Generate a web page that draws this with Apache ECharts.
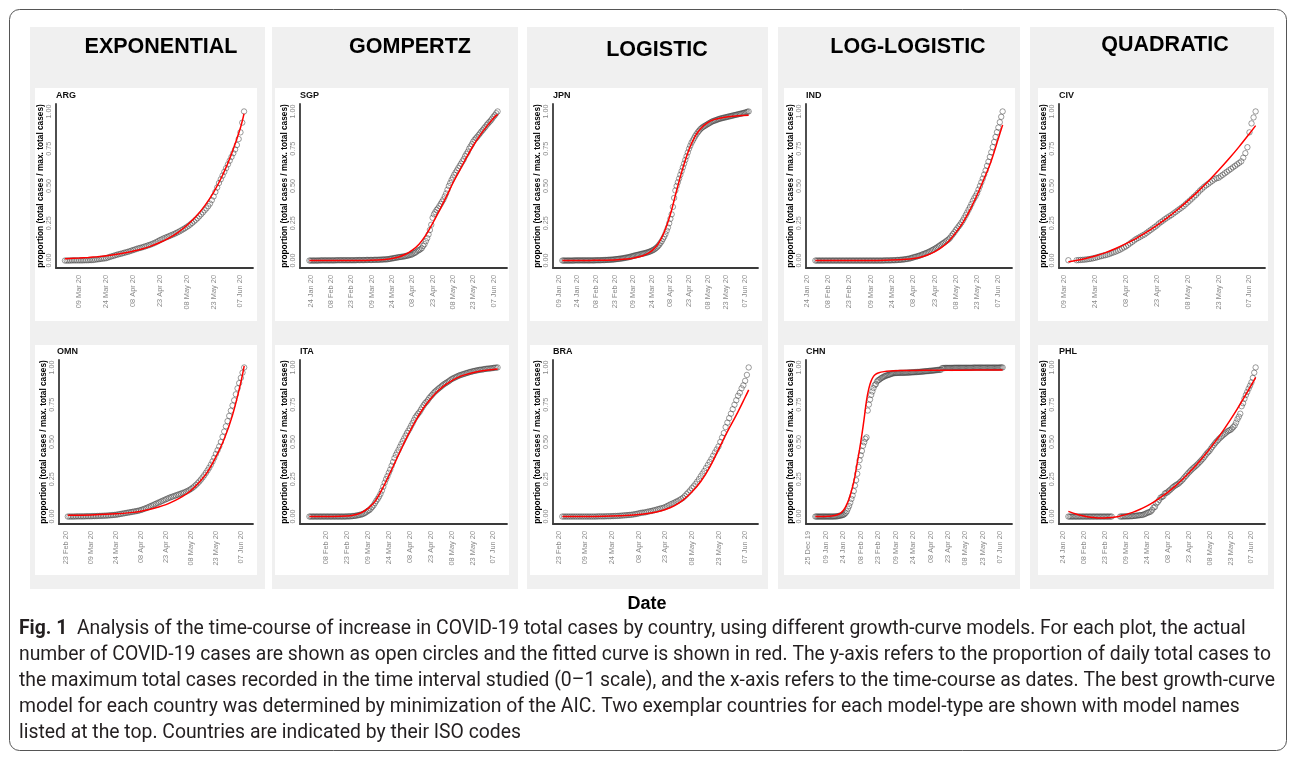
<!DOCTYPE html>
<html>
<head>
<meta charset="utf-8">
<script src="https://cdn.jsdelivr.net/npm/echarts@6/dist/echarts.min.js"></script>
<style>
  html, body { margin: 0; padding: 0; background: #fff; }
  #chart { width: 1295px; height: 759px; }
</style>
</head>
<body>
<div id="chart"></div>
<script>
// ---------------------------------------------------------------------------
// Growth-curve fits of COVID-19 total cases (proportion of the maximum).
// Columns: model type; rows: two example countries per model.
// ---------------------------------------------------------------------------

const models = ['EXPONENTIAL', 'GOMPERTZ', 'LOGISTIC', 'LOG-LOGISTIC', 'QUADRATIC'];
const countriesTop = ['ARG', 'SGP', 'JPN', 'IND', 'CIV'];
const countriesBottom = ['OMN', 'ITA', 'BRA', 'CHN', 'PHL'];

const yTickValues = [0, 0.25, 0.5, 0.75, 1];
const yAxisTitle = 'proportion (total cases / max. total cases)';
const xAxisTitle = 'Date';

// date breaks every 15 days
const dateTicks = ['25 Dec 19', '09 Jan 20', '24 Jan 20', '08 Feb 20', '23 Feb 20', '09 Mar 20',
  '24 Mar 20', '08 Apr 20', '23 Apr 20', '08 May 20', '23 May 20', '07 Jun 20'];
// first break shown on each panel (top row, then bottom row)
const firstTickTop = ['09 Mar 20', '24 Jan 20', '09 Jan 20', '24 Jan 20', '09 Mar 20'];
const firstTickBottom = ['23 Feb 20', '08 Feb 20', '23 Feb 20', '25 Dec 19', '24 Jan 20'];

// ---- observed daily proportions (one value per day from the start date; null = no report)
const startARG = '2020-03-01';
const obsARG = [0,0,0,0,.001,.001,.001,.001,
  .001,.001,.001,.002,.002,.002,.003,.003,.004,.006,.008,.009,.011,.013,.014,
  .016,.020,.024,.028,.031,.035,.039,.042,.045,.048,.052,.055,.058,.062,.066,
  .070,.074,.078,.082,.085,.088,.092,.096,.100,.104,.108,.113,.118,.124,.130,
  .137,.142,.148,.153,.158,.163,.168,.173,.178,.184,.190,.196,.203,.210,.217,
  .225,.233,.242,.252,.262,.273,.284,.297,.310,.323,.337,.350,.365,.382,.405,
  .430,.460,.490,.520,.545,.570,.595,.620,.645,.670,.695,.720,.745,.775,.815,
  .860,.925,1];

const startSGP = '2020-01-23';
const obsSGP = [0,0,0,0,0,0,0,0,
  .001,.001,.001,.001,.001,.001,.001,.001,.001,.001,.001,.001,
  .002,.002,.002,.002,.002,.002,.002,.002,.002,.002,.002,
  .002,.002,.002,.002,.003,.003,.003,.003,.003,.003,.003,.004,.004,.004,.004,
  .004,.004,.005,.005,.005,.005,.006,.006,.007,.007,.008,.008,.009,.011,.012,
  .014,.016,.017,.019,.021,.022,.024,.025,.026,.028,.030,.032,.034,.037,.039,
  .042,.048,.052,.058,.066,.070,.076,.083,.098,.110,.130,.150,.175,.205,.240,
  .287,.310,.325,.340,.350,.365,.380,.395,.410,.430,.450,.475,.500,.520,.540,
  .557,.575,.590,.605,.620,.635,.650,.665,.680,.700,.715,.730,.750,.765,.780,
  .797,.810,.820,.830,.842,.853,.865,.875,.887,.897,.910,.920,.930,.940,.952,
  .965,.975,.988,1];

const startJPN = '2020-01-12';
const obsJPN = [0,0,0,0,0,0,0,0,0,0,
  .001,.001,.001,.001,.001,.001,.001,.001,.001,.001,.001,.001,.001,.001,.001,.001,.001,
  .002,.002,.002,.002,.002,.003,.003,.003,.004,.004,.005,.005,.006,.006,.007,
  .008,.009,.010,.011,.012,.013,.014,.016,.017,.019,.020,.022,.024,.026,.028,
  .031,.033,.035,.037,.039,.041,.043,.045,.047,.049,.051,.053,.056,.059,.062,
  .066,.070,.075,.081,.088,.096,.106,.118,.130,.145,.160,.178,.200,.222,.250,
  .280,.310,.360,.420,.470,.500,.525,.550,.575,.600,.625,.650,.675,.700,.725,
  .750,.770,.790,.805,.820,.835,.848,.860,.870,.880,.888,.895,.900,.905,.910,
  .915,.920,.925,.930,.934,.937,.940,.943,.946,.949,.952,.954,.956,.958,.960,
  .962,.964,.966,.968,.970,.972,.974,.976,.978,.980,.982,.984,.986,.988,.990,
  .992,.995,.998,1];

const startIND = '2020-01-30';
const obsIND = [0,0,0,0,0,0,0,0,0,0,0,0,0,0,0,0,0,0,0,0,
  0,0,0,0,0,0,0,0,0,0,0,0,0,0,0,0,0,0,0,
  0,0,0,0,0,0,0,0,0,0,.001,.001,.001,.001,.001,
  .002,.002,.002,.003,.004,.004,.005,.006,.007,.008,.010,.011,.013,.015,.018,
  .021,.024,.026,.029,.032,.035,.039,.043,.046,.050,.054,.058,.063,.068,.073,
  .078,.084,.090,.097,.103,.110,.116,.122,.129,.136,.143,.153,.166,.178,.190,
  .204,.216,.229,.241,.255,.270,.287,.305,.322,.341,.359,.379,.400,.418,.434,
  .452,.476,.500,.525,.550,.577,.604,.635,.663,.695,.726,.761,.795,.829,.861,
  .892,.928,.964,1];

const startCIV = '2020-03-11';
const obsCIV = [.002,null,null,null,
  .002,.003,.004,.005,.006,.008,.010,.012,.015,
  .018,.022,.026,.030,.033,.036,.040,.044,.050,.055,.060,.066,.072,.080,.088,
  .095,.105,.115,.125,.135,.145,.152,.160,.168,.175,.185,.195,.205,.215,.225,
  .235,.248,.258,.268,.278,.288,.296,.305,.315,.325,.335,.345,.355,.365,.378,
  .390,.402,.415,.428,.440,.455,.470,.482,.495,.505,.515,.525,.535,.545,.552,
  .555,.565,.575,.585,.595,.605,.615,.625,.635,.645,.655,.665,.690,.720,.760,
  .860,.920,.960,1];

const startOMN = '2020-02-24';
const obsOMN = [0,0,0,0,0,.001,.001,.001,.001,.001,.001,.002,.002,.002,
  .002,.003,.003,.003,.004,.004,.005,.005,.006,.006,.007,.008,.009,.010,.011,
  .012,.014,.016,.018,.020,.022,.024,.026,.028,.030,.032,.034,.036,.038,.041,
  .044,.048,.052,.056,.061,.066,.071,.076,.081,.086,.091,.096,.101,.106,.111,
  .116,.121,.126,.130,.134,.138,.142,.146,.150,.154,.158,.162,.167,.172,.178,
  .185,.193,.202,.212,.223,.235,.248,.262,.277,.293,.310,.328,.348,.370,.394,
  .420,.445,.470,.500,.535,.570,.605,.640,.675,.710,.745,.780,.820,.860,.895,
  .930,.965,1];

const startITA = '2020-01-27';
const obsITA = [0,0,0,0,0,0,0,0,0,0,0,0,0,0,0,0,0,0,0,0,0,0,0,0,0,0,0,
  .001,.001,.001,.002,.003,.004,.005,.007,.009,.011,.013,.016,.020,.025,.031,
  .039,.043,.053,.064,.075,.090,.105,.119,.134,.152,.174,.200,.227,.251,.271,
  .294,.315,.341,.366,.392,.413,.430,.448,.468,.487,.506,.524,.542,.560,.575,
  .592,.610,.627,.646,.664,.677,.690,.701,.717,.732,.747,.760,.769,.781,.795,
  .806,.816,.827,.837,.845,.853,.861,.868,.876,.884,.890,.896,.902,.908,.915,
  .922,.926,.931,.935,.940,.944,.948,.951,.954,.957,.960,.963,.966,.969,.971,
  .974,.976,.978,.980,.982,.984,.985,.986,.988,.990,.991,.992,.993,.994,.995,
  .997,.998,.999,1];

const startBRA = '2020-02-25';
const obsBRA = [0,0,0,0,0,0,0,0,0,0,0,0,0,
  0,0,0,0,0,0,0,.001,.001,.001,.001,.001,.002,.002,.002,
  .003,.003,.004,.004,.005,.006,.007,.008,.009,.010,.011,.012,.014,.016,.018,
  .021,.024,.026,.027,.029,.032,.035,.037,.040,.043,.046,.050,.053,.056,.059,
  .064,.070,.076,.082,.087,.092,.099,.104,.111,.118,.126,.137,.150,.162,.175,
  .190,.203,.218,.234,.251,.270,.288,.306,.326,.346,.366,.386,.408,.430,.450,
  .470,.500,.530,.560,.600,.630,.660,.690,.720,.750,.780,.810,.830,.860,.880,
  .910,.950,1];

const startCHN = '2019-12-31';
const obsCHN = [0,0,0,0,0,0,0,0,0,0,0,0,0,0,0,0,0,
  .001,.001,.002,.004,.005,.007,.009,
  .011,.016,.024,.035,.053,.071,.093,.118,.141,.171,.208,.244,.287,.333,.378,
  .411,.440,.475,.498,.521,.531,.711,.751,.785,.816,.839,.862,.881,.888,.906,
  .914,.918,.925,.930,.934,.939,.942,.946,.948,.950,.953,.956,.959,.961,.962,
  .963,.963,.963,.964,.964,.964,.964,.964,.965,.965,.965,.966,.966,.967,.967,
  .968,.968,.969,.969,.970,.970,.971,.972,.972,.973,.974,.975,.975,.976,.977,
  .978,.978,.979,.980,.981,.982,.983,.984,.984,.985,.996,.996,.996,.997,.997,
  .997,.997,.997,.997,.997,.998,.998,.998,.998,.998,.998,.998,.998,.998,.998,
  .998,.998,.998,.998,.998,.998,.998,.999,.999,.999,.999,.999,.999,.999,.999,
  .999,.999,.999,.999,.999,.999,.999,.999,.999,.999,.999,.999,.999,.999,.999,
  1,1,1];

const startPHL = '2020-01-28';
const obsPHL = [0,0,0,0,0,0,0,0,0,0,0,0,0,0,0,0,
  0,0,0,0,0,0,0,0,0,0,0,0,0,0,0,0,
  null,null,null,null,null,
  0,0,0,.001,.001,.001,.001,.002,.002,.003,.004,.005,.006,.008,.009,.010,.011,.014,.018,
  .023,.027,.030,.034,.045,.060,.065,.088,.098,.111,.127,.131,.137,.154,.159,
  .163,.173,.180,.189,.198,.205,.211,.217,.222,.232,.240,.250,.262,.272,.283,
  .294,.303,.313,.322,.330,.338,.347,.356,.366,.376,.386,.397,.410,.422,.432,
  .441,.455,.468,.480,.492,.503,.512,.523,.531,.540,.549,.556,.564,.572,.578,
  .581,.590,.600,.611,.630,.653,.670,.690,.740,.760,.790,.815,.836,.858,.878,
  .900,.930,.965,1];

// ---- fitted model curves: [date, fitted proportion]
const fitARG = [['2020-03-01',.012],['2020-03-09',.017],['2020-03-14',.021],['2020-03-19',.026],
  ['2020-03-24',.032],['2020-03-29',.040],['2020-04-03',.050],['2020-04-08',.063],['2020-04-13',.078],
  ['2020-04-18',.097],['2020-04-23',.121],['2020-04-28',.151],['2020-05-03',.188],['2020-05-08',.235],
  ['2020-05-13',.293],['2020-05-18',.367],['2020-05-23',.458],['2020-05-28',.572],['2020-06-02',.714],
  ['2020-06-07',.891],['2020-06-09',.985]];

const fitSGP = [['2020-01-23',0],['2020-02-13',0],['2020-03-04',.001],['2020-03-14',.004],
  ['2020-03-19',.007],['2020-03-24',.013],['2020-03-29',.024],['2020-04-03',.042],['2020-04-08',.070],
  ['2020-04-13',.110],['2020-04-18',.170],['2020-04-23',.250],['2020-04-28',.335],['2020-05-03',.425],
  ['2020-05-08',.520],['2020-05-13',.605],['2020-05-18',.690],['2020-05-23',.770],['2020-05-28',.840],
  ['2020-06-02',.900],['2020-06-07',.955],['2020-06-10',.980]];

const fitJPN = [['2020-01-12',0],['2020-02-03',.001],['2020-02-23',.004],['2020-03-04',.010],
  ['2020-03-09',.016],['2020-03-14',.025],['2020-03-19',.040],['2020-03-24',.065],['2020-03-29',.110],
  ['2020-04-03',.190],['2020-04-08',.310],['2020-04-13',.470],['2020-04-18',.620],['2020-04-23',.745],
  ['2020-04-28',.835],['2020-05-03',.890],['2020-05-08',.925],['2020-05-13',.945],['2020-05-23',.963],
  ['2020-06-02',.971],['2020-06-10',.975]];

const fitIND = [['2020-01-30',0],['2020-03-14',.001],['2020-03-24',.003],['2020-04-03',.008],
  ['2020-04-08',.013],['2020-04-13',.022],['2020-04-18',.037],['2020-04-23',.058],['2020-04-28',.088],
  ['2020-05-03',.130],['2020-05-08',.187],['2020-05-13',.255],['2020-05-18',.340],['2020-05-23',.440],
  ['2020-05-28',.550],['2020-06-02',.670],['2020-06-07',.820],['2020-06-10',.910]];

const fitCIV = [['2020-03-11',-.008],['2020-03-14',-.002],['2020-03-19',.012],['2020-03-24',.030],
  ['2020-03-29',.053],['2020-04-03',.081],['2020-04-08',.113],['2020-04-13',.149],['2020-04-18',.190],
  ['2020-04-23',.236],['2020-04-28',.286],['2020-05-03',.341],['2020-05-08',.400],['2020-05-13',.464],
  ['2020-05-18',.532],['2020-05-23',.605],['2020-05-28',.682],['2020-06-02',.764],['2020-06-07',.851],
  ['2020-06-10',.905]];

const fitOMN = [['2020-02-24',.008],['2020-03-09',.011],['2020-03-24',.018],['2020-04-03',.028],
  ['2020-04-08',.036],['2020-04-13',.047],['2020-04-18',.062],['2020-04-23',.080],['2020-04-28',.105],
  ['2020-05-03',.135],['2020-05-08',.175],['2020-05-13',.230],['2020-05-18',.300],['2020-05-23',.400],
  ['2020-05-28',.520],['2020-06-02',.680],['2020-06-07',.900],['2020-06-09',1.01]];

const fitITA = [['2020-01-27',0],['2020-02-13',0],['2020-02-23',.003],['2020-02-28',.010],
  ['2020-03-04',.025],['2020-03-09',.055],['2020-03-14',.100],['2020-03-19',.180],['2020-03-24',.275],
  ['2020-03-29',.375],['2020-04-03',.475],['2020-04-08',.570],['2020-04-13',.655],['2020-04-18',.730],
  ['2020-04-23',.790],['2020-04-28',.840],['2020-05-03',.880],['2020-05-08',.910],['2020-05-13',.935],
  ['2020-05-18',.952],['2020-05-23',.965],['2020-05-28',.975],['2020-06-02',.982],['2020-06-07',.987],
  ['2020-06-10',.990]];

const fitBRA = [['2020-02-25',0],['2020-03-14',.001],['2020-03-24',.003],['2020-04-03',.008],
  ['2020-04-08',.013],['2020-04-13',.020],['2020-04-18',.031],['2020-04-23',.047],['2020-04-28',.072],
  ['2020-05-03',.110],['2020-05-08',.165],['2020-05-13',.235],['2020-05-18',.330],['2020-05-23',.450],
  ['2020-05-28',.570],['2020-06-02',.680],['2020-06-07',.800],['2020-06-09',.850]];

const fitCHN = [['2019-12-31',0],['2020-01-09',.001],['2020-01-14',.003],['2020-01-19',.012],
  ['2020-01-22',.025],['2020-01-24',.040],['2020-01-26',.065],['2020-01-29',.120],['2020-02-01',.200],
  ['2020-02-03',.270],['2020-02-05',.360],['2020-02-07',.450],['2020-02-09',.550],['2020-02-11',.660],
  ['2020-02-13',.780],['2020-02-15',.860],['2020-02-17',.910],['2020-02-19',.940],['2020-02-21',.955],
  ['2020-02-23',.963],['2020-02-28',.972],['2020-03-04',.976],['2020-03-14',.979],['2020-04-03',.981],
  ['2020-05-03',.982],['2020-06-09',.983]];

const fitPHL = [['2020-01-28',.035],['2020-02-03',.015],['2020-02-08',.003],['2020-02-13',-.005],
  ['2020-02-18',-.009],['2020-02-23',-.010],['2020-02-28',-.006],['2020-03-04',.001],['2020-03-09',.013],
  ['2020-03-14',.028],['2020-03-19',.047],['2020-03-24',.070],['2020-03-29',.097],['2020-04-03',.128],
  ['2020-04-08',.162],['2020-04-13',.201],['2020-04-18',.243],['2020-04-23',.290],['2020-04-28',.340],
  ['2020-05-03',.394],['2020-05-08',.452],['2020-05-13',.514],['2020-05-18',.580],['2020-05-23',.650],
  ['2020-05-28',.724],['2020-06-02',.802],['2020-06-07',.883],['2020-06-10',.934]];

// caption lines under the figure
const captionLines = [
  '{b|Fig. 1}  Analysis of the time-course of increase in COVID-19 total cases by country, using different growth-curve models. For each plot, the actual',
  'number of COVID-19 cases are shown as open circles and the fitted curve is shown in red. The y-axis refers to the proportion of daily total cases to',
  'the maximum total cases recorded in the time interval studied (0\u20131 scale), and the x-axis refers to the time-course as dates. The best growth-curve',
  'model for each country was determined by minimization of the AIC. Two exemplar countries for each model-type are shown with model names',
  'listed at the top. Countries are indicated by their ISO codes'
];

// ---------------------------------------------------------------------------
// helpers: days counted from 25 Dec 2019, so the 15-day breaks are multiples of 15
// ---------------------------------------------------------------------------
const DAY0 = Date.UTC(2019, 11, 25);
const MONTHS = { Jan: 0, Feb: 1, Mar: 2, Apr: 3, May: 4, Jun: 5, Jul: 6, Aug: 7, Sep: 8, Oct: 9, Nov: 10, Dec: 11 };
function dayFromISO(s) {
  const p = s.split('-').map(Number);
  return (Date.UTC(p[0], p[1] - 1, p[2]) - DAY0) / 86400000;
}
function dayFromLabel(s) {
  const p = s.split(' ');
  return (Date.UTC(2000 + Number(p[2]), MONTHS[p[1]], Number(p[0])) - DAY0) / 86400000;
}

const panels = [
  { start: startARG, obs: obsARG, fit: fitARG },
  { start: startSGP, obs: obsSGP, fit: fitSGP },
  { start: startJPN, obs: obsJPN, fit: fitJPN },
  { start: startIND, obs: obsIND, fit: fitIND },
  { start: startCIV, obs: obsCIV, fit: fitCIV },
  { start: startOMN, obs: obsOMN, fit: fitOMN },
  { start: startITA, obs: obsITA, fit: fitITA },
  { start: startBRA, obs: obsBRA, fit: fitBRA },
  { start: startCHN, obs: obsCHN, fit: fitCHN },
  { start: startPHL, obs: obsPHL, fit: fitPHL }
];

// ---------------------------------------------------------------------------
// layout (pixels)
// ---------------------------------------------------------------------------
const L = {
  plotLeft: [[56, 300, 553, 806, 1059], [59, 300, 553, 806, 1059]],
  plotRight: [253, 507, 758, 1012, 1265],
  plotTop: [104, 360],
  plotHeight: 164,
  greyX: [30, 272, 527, 778, 1030],
  greyW: [235, 246, 241, 242, 244],
  greyTop: 27, greyBottom: 589,
  whiteX: [35, 275, 530, 784, 1038],
  whiteW: [222, 234, 232, 231, 230],
  whiteTop: [88, 345], whiteBottom: [321, 575],
  titleX: [161, 410, 657, 908, 1165],
  titleY: [47, 47, 50, 47, 45],
  codeY: [96, 352]
};

const SANS = '"Liberation Sans", Arial, Helvetica, sans-serif';
const CAPTION_FONT = 'Roboto, "Open Sans", sans-serif';

const grids = [], xAxes = [], yAxes = [], series = [];
const graphics = [];

// outer frame
graphics.push({
  type: 'rect', z: -30,
  shape: { x: 9.5, y: 9.5, width: 1277, height: 741, r: 10 },
  style: { fill: '#fff', stroke: '#555', lineWidth: 1 }
});

for (let c = 0; c < 5; c++) {
  graphics.push({
    type: 'rect', z: -20,
    shape: { x: L.greyX[c], y: L.greyTop, width: L.greyW[c], height: L.greyBottom - L.greyTop },
    style: { fill: '#f0f0f0' }
  });
  graphics.push({
    type: 'text', z: 5,
    style: {
      text: models[c], x: L.titleX[c], y: L.titleY[c],
      align: 'center', verticalAlign: 'middle', textAlign: 'center', textVerticalAlign: 'middle',
      font: 'bold 21.5px ' + SANS, fill: '#000'
    }
  });
}

panels.forEach((p, i) => {
  const row = i < 5 ? 0 : 1;
  const col = i % 5;
  const code = row === 0 ? countriesTop[col] : countriesBottom[col];
  const firstTick = row === 0 ? firstTickTop[col] : firstTickBottom[col];
  const ticks = dateTicks.slice(dateTicks.indexOf(firstTick));
  const tickDays = ticks.map(dayFromLabel);
  const labelOf = {};
  ticks.forEach((t, k) => { labelOf[tickDays[k]] = t; });

  const d0 = dayFromISO(p.start);
  const pts = [];
  p.obs.forEach((v, k) => { if (v !== null) pts.push([d0 + k, v]); });
  const first = pts[0][0], last = pts[pts.length - 1][0];
  const span = last - first;
  const xMin = first - 0.05 * span, xMax = last + 0.05 * span;

  const left = L.plotLeft[row][col];
  grids.push({
    left: left, top: L.plotTop[row],
    width: L.plotRight[col] - left, height: L.plotHeight
  });

  graphics.push({
    type: 'rect', z: -10,
    shape: { x: L.whiteX[col], y: L.whiteTop[row], width: L.whiteW[col], height: L.whiteBottom[row] - L.whiteTop[row] },
    style: { fill: '#fff' }
  });
  graphics.push({
    type: 'text', z: 5,
    style: {
      text: code, x: (row === 1 && col === 0) ? 57 : left, y: L.codeY[row],
      align: 'left', verticalAlign: 'middle', textAlign: 'left', textVerticalAlign: 'middle',
      font: 'bold 9px ' + SANS, fill: '#111'
    }
  });

  xAxes.push({
    gridIndex: i, type: 'value', min: xMin, max: xMax,
    axisLine: { show: true, onZero: false, lineStyle: { color: '#3a3a3a', width: 1.8 } },
    axisTick: { show: false },
    splitLine: { show: false },
    axisLabel: {
      customValues: tickDays,
      formatter: v => labelOf[Math.round(v)] || '',
      rotate: 90, margin: 7, fontSize: 7.4, color: '#8a8a8a', fontFamily: SANS
    }
  });
  yAxes.push({
    gridIndex: i, type: 'value', min: -0.05, max: 1.05,
    axisLine: { show: true, onZero: false, lineStyle: { color: '#3a3a3a', width: 1.8 } },
    axisTick: { show: false },
    splitLine: { show: false },
    axisLabel: {
      customValues: yTickValues,
      formatter: v => v.toFixed(2),
      rotate: 90, margin: 3, fontSize: 7.2, color: '#8a8a8a', fontFamily: SANS
    },
    name: yAxisTitle, nameLocation: 'middle', nameRotate: 90, nameGap: 10,
    nameTextStyle: { fontSize: 8.3, fontWeight: 'bold', color: '#000', fontFamily: SANS }
  });

  series.push({
    type: 'scatter', xAxisIndex: i, yAxisIndex: i, data: pts,
    symbol: 'circle', symbolSize: 5.4, silent: true, z: 2,
    itemStyle: { color: 'rgba(0,0,0,0)', borderColor: 'rgba(60,60,60,0.8)', borderWidth: 0.8 }
  });
  series.push({
    type: 'line', xAxisIndex: i, yAxisIndex: i,
    data: p.fit.map(f => [dayFromISO(f[0]), f[1]]),
    showSymbol: false, smooth: 0.35, silent: true, z: 3,
    lineStyle: { color: '#ff0000', width: 1.5 }
  });
});

// shared x-axis title
graphics.push({
  type: 'text', z: 5,
  style: {
    text: xAxisTitle, x: 647, y: 604,
    align: 'center', verticalAlign: 'middle', textAlign: 'center', textVerticalAlign: 'middle',
    font: 'bold 18px ' + SANS, fill: '#000'
  }
});

// caption: size chosen so the long lines span the text block width
const ctx = document.createElement('canvas').getContext('2d');
ctx.font = '100px ' + CAPTION_FONT;
const w2 = ctx.measureText(captionLines[1]).width;
const w3 = ctx.measureText(captionLines[2]).width;
let capSize = 100 * ((1252 / w2) + (1257 / w3)) / 2;
capSize = Math.max(13, Math.min(20, capSize));

captionLines.forEach((line, k) => {
  graphics.push({
    type: 'text', z: 5,
    style: {
      text: line, x: 19, y: 629 + 26 * k,
      align: 'left', verticalAlign: 'middle', textAlign: 'left', textVerticalAlign: 'middle',
      fontSize: capSize, fontFamily: CAPTION_FONT, fill: '#231f20',
      rich: { b: { fontSize: capSize, fontFamily: CAPTION_FONT, fontWeight: 'bold', fill: '#231f20', color: '#231f20' } }
    }
  });
});

const chart = echarts.init(document.getElementById('chart'), null, { renderer: 'canvas', width: 1295, height: 759 });
chart.setOption({
  animation: false,
  backgroundColor: '#fff',
  grid: grids,
  xAxis: xAxes,
  yAxis: yAxes,
  series: series,
  graphic: { elements: graphics }
});
</script>
</body>
</html>
